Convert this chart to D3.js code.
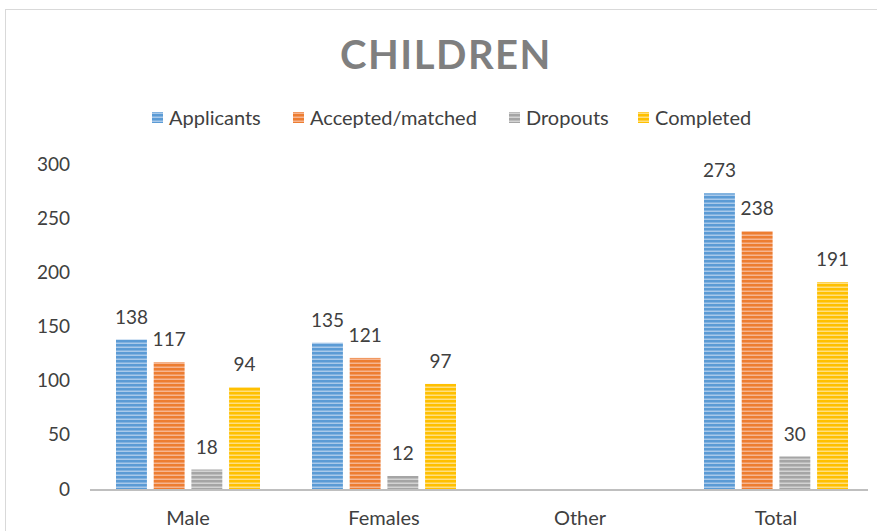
<!DOCTYPE html>
<meta charset="utf-8">
<script src="https://d3js.org/d3.v7.min.js"></script>
<style>
  body { margin: 0; background: #fff; }
  text { font-family: Lato, "Open Sans", sans-serif; fill: #404040; }
</style>
<div id="chart"></div>
<script>
  // Data
  var categories = ["Male", "Females", "Other", "Total"];
  var seriesNames = ["Applicants", "Accepted/matched", "Dropouts", "Completed"];
  var applicants = [138, 135, null, 273];
  var accepted = [117, 121, null, 238];
  var dropouts = [18, 12, null, 30];
  var completed = [94, 97, null, 191];
  var yTicks = [0, 50, 100, 150, 200, 250, 300];

  var seriesValues = [applicants, accepted, dropouts, completed];
  var colors = ["#5b9bd5", "#ed7d31", "#a5a5a5", "#ffc000"];
  var lights = ["#a9c9ea", "#f6b590", "#d3d3d3", "#ffdf80"];

  var W = 877, H = 531;
  var svg = d3.select("#chart").append("svg")
    .attr("width", W).attr("height", H);

  // Striped patterns
  var defs = svg.append("defs");
  colors.forEach(function (c, i) {
    var p = defs.append("pattern")
      .attr("id", "stripe" + i)
      .attr("patternUnits", "userSpaceOnUse")
      .attr("width", 8).attr("height", 4);
    p.append("rect").attr("width", 8).attr("height", 4).attr("fill", c);
    p.append("rect").attr("y", 2.5).attr("width", 8).attr("height", 1.5).attr("fill", lights[i]);
  });

  // Chart border
  svg.append("rect")
    .attr("x", 5.5).attr("y", 9.5)
    .attr("width", W + 10).attr("height", H + 10)
    .attr("fill", "none").attr("stroke", "#d9d9d9");

  // Title
  svg.append("text")
    .attr("x", 446).attr("y", 69)
    .attr("text-anchor", "middle")
    .style("font-size", "40px").style("font-weight", "bold")
    .style("letter-spacing", "1.5px")
    .style("fill", "#7f7f7f")
    .text("CHILDREN");

  // Scales
  var x0 = d3.scaleBand().domain(categories).range([90, 874]);
  var x1 = d3.scaleBand().domain(seriesNames).range([26, 170]).paddingInner(0.18);
  var y = d3.scaleLinear().domain([0, 300]).range([489, 164]);

  // Y axis labels
  svg.selectAll(".ytick").data(yTicks).enter().append("text")
    .attr("class", "ytick")
    .attr("x", 70).attr("y", function (d) { return y(d); })
    .attr("dy", "0.35em")
    .attr("text-anchor", "end")
    .style("font-size", "19px")
    .text(function (d) { return d; });

  // Bars
  var groups = svg.selectAll(".grp").data(categories).enter().append("g")
    .attr("class", "grp")
    .attr("transform", function (d) { return "translate(" + x0(d) + ",0)"; });

  seriesNames.forEach(function (s, i) {
    var vals = seriesValues[i];
    groups.filter(function (d, j) { return vals[j] != null; })
      .append("rect")
      .attr("x", x1(s))
      .attr("width", x1.bandwidth())
      .attr("y", function (d) { return y(vals[categories.indexOf(d)]); })
      .attr("height", function (d) { return y(0) - y(vals[categories.indexOf(d)]); })
      .attr("fill", "url(#stripe" + i + ")");
    groups.filter(function (d, j) { return vals[j] != null; })
      .append("text")
      .attr("x", x1(s) + x1.bandwidth() / 2)
      .attr("y", function (d) { return y(vals[categories.indexOf(d)]) - 16; })
      .attr("text-anchor", "middle")
      .style("font-size", "19px")
      .text(function (d) { return vals[categories.indexOf(d)]; });
  });

  // X axis line
  svg.append("line")
    .attr("x1", 90).attr("x2", 868)
    .attr("y1", y(0) + 1).attr("y2", y(0) + 1)
    .attr("stroke", "#bfbfbf").attr("stroke-width", 2);

  // X labels
  svg.selectAll(".xlab").data(categories).enter().append("text")
    .attr("class", "xlab")
    .attr("x", function (d) { return x0(d) + x0.bandwidth() / 2; })
    .attr("y", 525)
    .attr("text-anchor", "middle")
    .style("font-size", "20px")
    .text(function (d) { return d; });

  // Legend
  var legendX = [152, 293, 509, 638];
  var leg = svg.selectAll(".leg").data(seriesNames).enter().append("g")
    .attr("class", "leg")
    .attr("transform", function (d, i) { return "translate(" + legendX[i] + ",118)"; });
  leg.append("rect")
    .attr("x", 0).attr("y", -6).attr("width", 11).attr("height", 11)
    .attr("fill", function (d, i) { return "url(#stripe" + i + ")"; });
  leg.append("text")
    .attr("x", 17).attr("dy", "0.35em")
    .style("font-size", "20px")
    .text(function (d) { return d; });
</script>
